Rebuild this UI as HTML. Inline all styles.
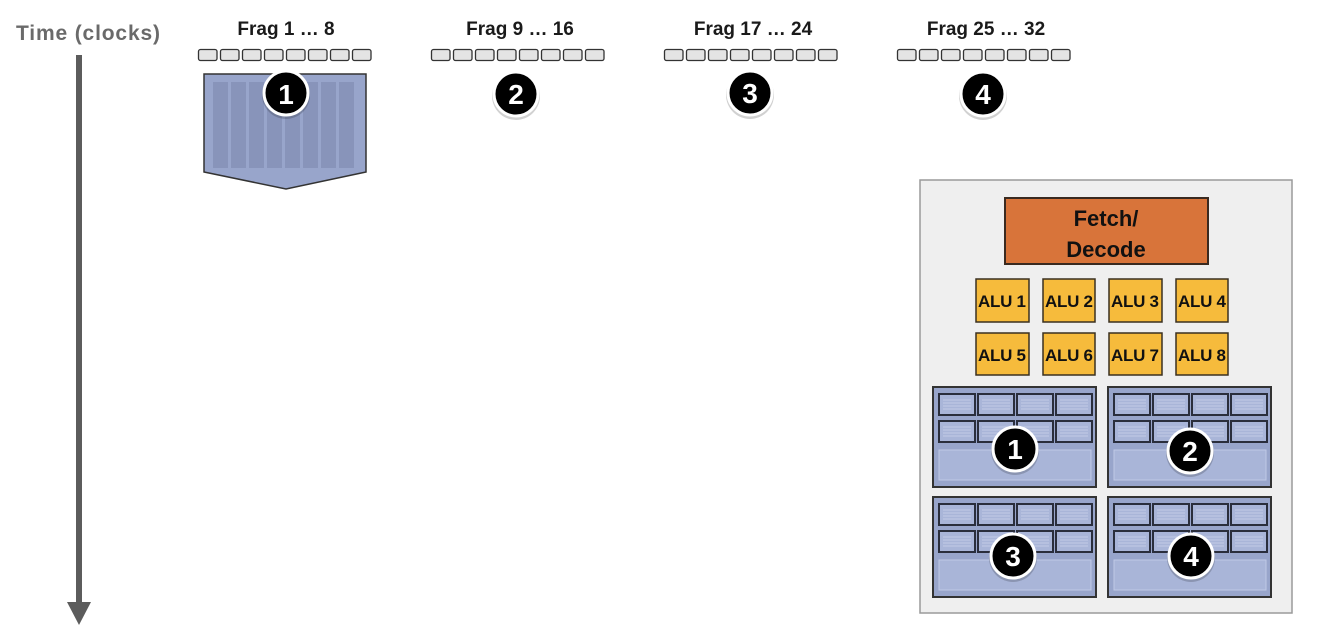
<!DOCTYPE html>
<html><head><meta charset="utf-8"><style>
html,body{margin:0;padding:0;background:#fff;}
svg{display:block;}
text{font-family:"Liberation Sans",sans-serif;font-weight:bold;}
</style></head><body>
<svg width="1318" height="644" viewBox="0 0 1318 644" xmlns="http://www.w3.org/2000/svg">
<defs>
<g id="row">
<rect x="0.5" y="0.5" width="18.5" height="11" rx="2" fill="#e4e4e4" stroke="#333" stroke-width="1.3"/>
<rect x="22.5" y="0.5" width="18.5" height="11" rx="2" fill="#e4e4e4" stroke="#333" stroke-width="1.3"/>
<rect x="44.5" y="0.5" width="18.5" height="11" rx="2" fill="#e4e4e4" stroke="#333" stroke-width="1.3"/>
<rect x="66.5" y="0.5" width="18.5" height="11" rx="2" fill="#e4e4e4" stroke="#333" stroke-width="1.3"/>
<rect x="88.5" y="0.5" width="18.5" height="11" rx="2" fill="#e4e4e4" stroke="#333" stroke-width="1.3"/>
<rect x="110.5" y="0.5" width="18.5" height="11" rx="2" fill="#e4e4e4" stroke="#333" stroke-width="1.3"/>
<rect x="132.5" y="0.5" width="18.5" height="11" rx="2" fill="#e4e4e4" stroke="#333" stroke-width="1.3"/>
<rect x="154.5" y="0.5" width="18.5" height="11" rx="2" fill="#e4e4e4" stroke="#333" stroke-width="1.3"/>
</g>
<g id="sb"><rect x="0" y="0" width="36" height="21" fill="#a9b5d8" stroke="#2a2e3c" stroke-width="2"/>
<line x1="4" y1="6" x2="32" y2="6" stroke="#c4cce6" stroke-width="1"/><line x1="4" y1="9" x2="32" y2="9" stroke="#c4cce6" stroke-width="1"/><line x1="4" y1="12" x2="32" y2="12" stroke="#c4cce6" stroke-width="1"/><line x1="4" y1="15" x2="32" y2="15" stroke="#c4cce6" stroke-width="1"/></g>
<g id="blk">
<rect x="0" y="0" width="163" height="100" fill="#98a5cb" stroke="#333" stroke-width="2"/>
<use href="#sb" x="6" y="7"/><use href="#sb" x="45" y="7"/><use href="#sb" x="84" y="7"/><use href="#sb" x="123" y="7"/>
<use href="#sb" x="6" y="34"/><use href="#sb" x="45" y="34"/><use href="#sb" x="84" y="34"/><use href="#sb" x="123" y="34"/>
<rect x="6" y="63" width="152" height="30" fill="#a9b5d8" stroke="#c0c9e6" stroke-width="1"/>
</g>
<g id="circ"><circle cx="0" cy="2" r="24" fill="#000" opacity="0.18"/><circle cx="0" cy="0" r="22" fill="#000" stroke="#fff" stroke-width="3"/></g>
</defs>

<text x="16" y="40" font-size="21" fill="#6a6a6a" textLength="144">Time (clocks)</text>
<rect x="76" y="55" width="6" height="550" fill="#5c5c5c"/>
<polygon points="67,602 91,602 79,625" fill="#5c5c5c"/>

<text x="286" y="35" font-size="19" fill="#1a1a1a" text-anchor="middle">Frag 1 … 8</text>
<text x="520" y="35" font-size="19" fill="#1a1a1a" text-anchor="middle">Frag 9 … 16</text>
<text x="753" y="35" font-size="19" fill="#1a1a1a" text-anchor="middle">Frag 17 … 24</text>
<text x="986" y="35" font-size="19" fill="#1a1a1a" text-anchor="middle">Frag 25 … 32</text>
<use href="#row" x="198" y="49"/>
<use href="#row" x="431" y="49"/>
<use href="#row" x="664" y="49"/>
<use href="#row" x="897" y="49"/>

<polygon points="204,74 366,74 366,172 286,189 204,172" fill="#98a5cb" stroke="#333" stroke-width="1.5"/>
<g fill="#8894ba">
<rect x="213" y="82" width="15" height="86"/><rect x="231" y="82" width="15" height="86"/><rect x="249" y="82" width="15" height="86"/><rect x="267" y="82" width="15" height="86"/>
<rect x="285" y="82" width="15" height="86"/><rect x="303" y="82" width="15" height="86"/><rect x="321" y="82" width="15" height="86"/><rect x="339" y="82" width="15" height="86"/>
</g>

<use href="#circ" x="286" y="93"/><text x="286" y="104" font-size="28" fill="#fff" text-anchor="middle" font-family="Liberation Serif">1</text>
<use href="#circ" x="516" y="94"/><text x="516" y="104" font-size="28" fill="#fff" text-anchor="middle">2</text>
<use href="#circ" x="750" y="93"/><text x="750" y="103" font-size="28" fill="#fff" text-anchor="middle">3</text>
<use href="#circ" x="983" y="94"/><text x="983" y="104" font-size="28" fill="#fff" text-anchor="middle">4</text>

<rect x="920" y="180" width="372" height="433" fill="#efefef" stroke="#9a9a9a" stroke-width="1.5"/>
<rect x="1005" y="198" width="203" height="66" fill="#d8743a" stroke="#3a2a20" stroke-width="2"/>
<text x="1106" y="226" font-size="22" fill="#111" text-anchor="middle">Fetch/</text>
<text x="1106" y="257" font-size="22" fill="#111" text-anchor="middle">Decode</text>

<g fill="#f6bb3c" stroke="#3a3020" stroke-width="1.5">
<rect x="976" y="279" width="53" height="43"/><rect x="1043" y="279" width="52" height="43"/><rect x="1109" y="279" width="53" height="43"/><rect x="1176" y="279" width="52" height="43"/>
<rect x="976" y="333" width="53" height="42"/><rect x="1043" y="333" width="52" height="42"/><rect x="1109" y="333" width="53" height="42"/><rect x="1176" y="333" width="52" height="42"/>
</g>
<g font-size="17" fill="#111" text-anchor="middle">
<text x="1002" y="307" textLength="48">ALU 1</text><text x="1069" y="307" textLength="48">ALU 2</text><text x="1135" y="307" textLength="48">ALU 3</text><text x="1202" y="307" textLength="48">ALU 4</text>
<text x="1002" y="361" textLength="48">ALU 5</text><text x="1069" y="361" textLength="48">ALU 6</text><text x="1135" y="361" textLength="48">ALU 7</text><text x="1202" y="361" textLength="48">ALU 8</text>
</g>

<use href="#blk" x="933" y="387"/>
<use href="#blk" x="1108" y="387"/>
<use href="#blk" x="933" y="497"/>
<use href="#blk" x="1108" y="497"/>
<use href="#circ" x="1015" y="449"/><text x="1015" y="459" font-size="28" fill="#fff" text-anchor="middle" font-family="Liberation Serif">1</text>
<use href="#circ" x="1190" y="451"/><text x="1190" y="461" font-size="28" fill="#fff" text-anchor="middle">2</text>
<use href="#circ" x="1013" y="556"/><text x="1013" y="566" font-size="28" fill="#fff" text-anchor="middle">3</text>
<use href="#circ" x="1191" y="556"/><text x="1191" y="566" font-size="28" fill="#fff" text-anchor="middle">4</text>
</svg>
</body></html>
